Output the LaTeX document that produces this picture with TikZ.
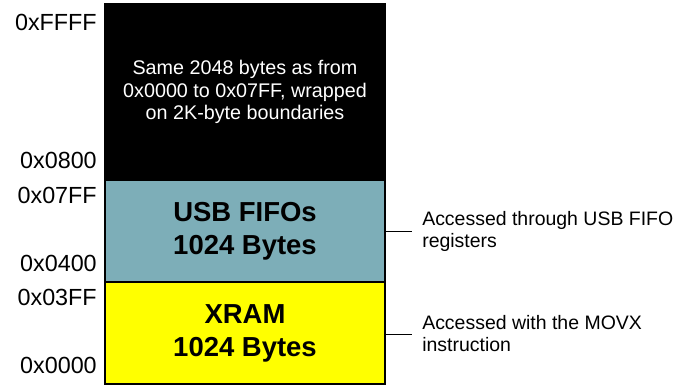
\documentclass[tikz,border=0pt]{standalone}
\usepackage{fontspec}
\setmainfont{Liberation Sans}
\definecolor{usbteal}{HTML}{7DAEB8}
\definecolor{xramyellow}{HTML}{FFFF00}

\begin{document}
\begin{tikzpicture}[
  x=0.75pt,
  y=-0.75pt,
  line join=miter,
  membox/.style={draw=black,line width=1.5pt,minimum width=210pt,inner sep=0pt,align=center},
  addr/.style={anchor=east,inner sep=0pt,font=\fontsize{17.5}{20}\selectfont},
  note/.style={anchor=west,inner xsep=7.5pt,inner ysep=0pt,align=left,font=\fontsize{14.6}{16.5}\selectfont},
  leader/.style={draw=black,line width=0.75pt}
]
  % Match the artwork frame.
  \useasboundingbox (0,0) rectangle (678,385);

  % Memory map blocks, top to bottom.
  \node[membox,fill=black,text=white,minimum height=132pt,
    font=\fontsize{14.8}{16.9}\selectfont] (mirror) at (245,92)
    {Same 2048 bytes as from\\0x0000 to 0x07FF, wrapped\\on 2K-byte boundaries};
  \node[membox,fill=usbteal,minimum height=76.5pt,
    font=\fontsize{20.6}{24.75}\selectfont\bfseries] (usb) at (245,231)
    {USB FIFOs\\1024 Bytes};
  \node[membox,fill=xramyellow,minimum height=76.5pt,
    font=\fontsize{20.6}{24.75}\selectfont\bfseries] (xram) at (245,333)
    {XRAM\\1024 Bytes};

  % Address labels on the left edge.
  \node[addr] (aFFFF) at (97,22) {0xFFFF};
  \node[addr] (a0800) at (97,160) {0x0800};
  \node[addr] (a07FF) at (97,195) {0x07FF};
  \node[addr] (a0400) at (97,263) {0x0400};
  \node[addr] (a03FF) at (97,297) {0x03FF};
  \node[addr] (a0000) at (97,365) {0x0000};

  % Access notes on the right.
  \node[note] (usbnote) at (412,231) {Accessed through USB FIFO\\registers};
  \node[note] (xramnote) at (412,334) {Accessed with the MOVX\\instruction};
  \draw[leader] (usb.east |- usbnote.west) -- (usbnote.west);
  \draw[leader] (xram.east |- xramnote.west) -- (xramnote.west);
\end{tikzpicture}
\end{document}
